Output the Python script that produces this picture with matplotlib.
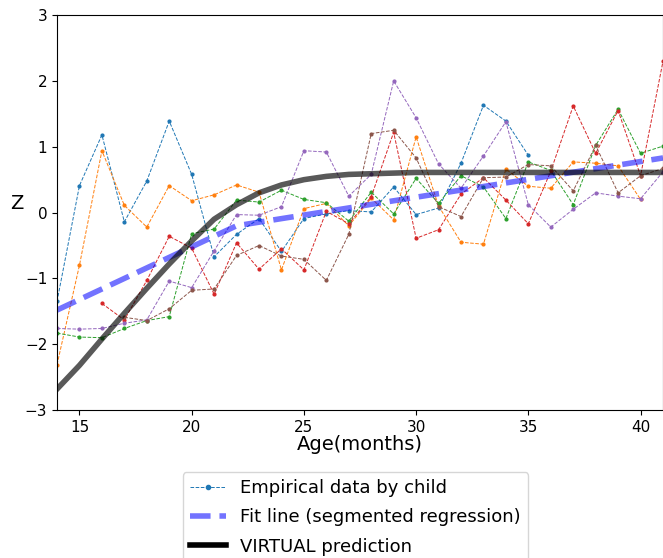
import numpy as np
import matplotlib
matplotlib.use('Agg')
from matplotlib import pyplot as plt
from matplotlib.lines import Line2D

nan = np.nan
ages = np.arange(14, 42)

# z-scores per child, one value per month from 14 to 41 (nan = no visit)
child_blue = [-1.35, 0.41, 1.18, -0.14, 0.48, 1.39, 0.58, -0.67, -0.33, -0.09,
              -0.59, -0.09, -0.02, 0.03, 0.01, 0.39, -0.03, 0.07, 0.75, 1.63,
              1.39, 0.87, nan, nan, nan, nan, nan, nan]
child_orange = [-2.31, -0.80, 0.94, 0.11, -0.22, 0.41, 0.18, 0.27, 0.42, 0.31,
                -0.87, 0.06, 0.14, -0.20, 0.22, -0.11, 1.15, 0.10, -0.45, -0.48,
                0.66, 0.40, 0.37, 0.77, 0.75, 0.71, 0.20, nan]
child_green = [-1.83, -1.89, -1.90, -1.76, -1.64, -1.58, -0.32, -0.25, 0.19, 0.16,
               0.34, 0.20, 0.15, -0.13, 0.31, -0.02, 0.52, 0.14, 0.56, 0.39,
               -0.09, 0.77, 0.64, 0.12, 1.02, 1.57, 0.90, 1.01]
child_red = [nan, nan, -1.38, -1.63, -1.03, -0.36, -0.54, -1.24, -0.46, -0.86,
             -0.55, -0.87, 0.02, -0.17, 0.24, 1.22, -0.39, -0.26, 0.28, 0.53,
             0.19, -0.17, 0.63, 1.62, 0.90, 1.55, 0.56, 2.30]
child_purple = [-1.76, -1.77, -1.76, -1.68, -1.63, -1.04, -1.14, -0.58, -0.03, -0.04,
                0.09, 0.94, 0.92, 0.25, 0.58, 2.00, 1.44, 0.74, 0.37, 0.86,
                1.38, 0.12, -0.22, 0.05, 0.30, 0.25, 0.21, 0.62]
child_brown = [nan, nan, nan, -1.59, -1.64, -1.46, -1.18, -1.16, -0.65, -0.50,
               -0.66, -0.71, -1.03, -0.33, 1.20, 1.25, 0.83, 0.09, -0.06, 0.53,
               0.54, 0.73, 0.71, 0.33, 1.02, 0.30, 0.56, 0.67]
children = [child_blue, child_orange, child_green, child_red, child_purple, child_brown]

# segmented regression: two pieces joined at the breakpoint
fit_ages = [14, 22, 41]
fit_z = [-1.48, -0.20, 0.83]

# VIRTUAL model prediction by month
virtual_z = [-2.68, -2.32, -1.92, -1.53, -1.15, -0.78, -0.43, -0.10, 0.12, 0.30,
             0.42, 0.50, 0.55, 0.58, 0.59, 0.60, 0.61, 0.61, 0.61, 0.61,
             0.61, 0.61, 0.61, 0.61, 0.61, 0.61, 0.61, 0.61]

fig = plt.figure(figsize=(6.63, 5.58), dpi=100)
ax = fig.add_axes([0.086, 0.265, 0.914, 0.708])

for i, z in enumerate(children):
    ax.plot(ages, z, '--', color='C%d' % i, marker='o', markersize=2,
            linewidth=0.7)

ax.plot(fit_ages, fit_z, '--', color='blue', alpha=0.55, linewidth=4)
ax.plot(ages, virtual_z, '-', color='black', alpha=0.65, linewidth=4)

ax.set_xlim(14, 41)
ax.set_ylim(-3, 3)
ax.set_xticks([15, 20, 25, 30, 35, 40])
ax.set_yticks([-3, -2, -1, 0, 1, 2, 3])
ax.tick_params(labelsize=11)
ax.set_xlabel('Age(months)', fontsize=14, labelpad=0)
ax.set_ylabel('Z', fontsize=14, rotation=0, labelpad=6)

handles = [
    Line2D([], [], linestyle='--', color='C0', marker='o', markersize=3, linewidth=0.7),
    Line2D([], [], linestyle='--', color='blue', alpha=0.55, linewidth=4),
    Line2D([], [], linestyle='-', color='black', linewidth=4),
]
labels = ['Empirical data by child', 'Fit line (segmented regression)',
          'VIRTUAL prediction']
fig.legend(handles, labels, loc='upper center', bbox_to_anchor=(0.536, 0.154),
           borderaxespad=0, fontsize=13, labelspacing=0.62)

plt.savefig('out.png', dpi=100)
